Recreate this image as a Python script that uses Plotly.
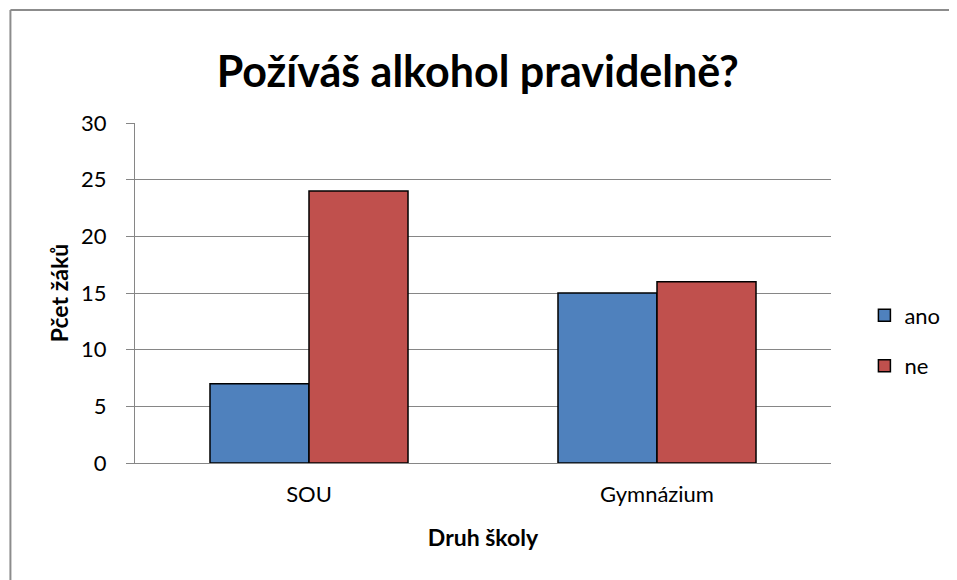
import plotly.graph_objects as go

skoly = ["SOU", "Gymnázium"]
ano = [7, 15]
ne = [24, 16]
y_ticks = [0, 5, 10, 15, 20, 25, 30]

FONT = "Lato, sans-serif"
GRID = "#868686"

fig = go.Figure()
fig.add_trace(go.Bar(
    x=skoly, y=ano, name="ano", legendgroup="ano",
    marker=dict(color="#4F81BD", line=dict(color="black", width=1.5))
))
fig.add_trace(go.Bar(
    x=skoly, y=ne, name="ne", legendgroup="ne",
    marker=dict(color="#C0504D", line=dict(color="black", width=1.5))
))

# page body has an 8px margin, so the figure is a bit smaller than the window
fig.update_layout(
    width=949, height=572,
    margin=dict(l=127, r=119, t=115, b=117),
    plot_bgcolor="white", paper_bgcolor="white",
    font=dict(family=FONT, size=22, color="black"),
    title=dict(text="<b>Požíváš alkohol pravidelně?</b>", x=0.495, xanchor="center",
               y=0.888, yanchor="middle", font=dict(size=43, family=FONT)),
    barmode="group", bargap=0.431, bargroupgap=0,
    legend=dict(x=1.048, y=0.359, xanchor="left", yanchor="middle",
                traceorder="grouped", tracegroupgap=19, font=dict(size=22)),
    showlegend=True,
)
fig.update_yaxes(
    range=[0, 30], tickvals=y_ticks, showgrid=True, gridcolor=GRID, gridwidth=1,
    showline=True, linecolor=GRID, linewidth=1, automargin=False,
    ticks="outside", ticklen=8, tickcolor=GRID, ticklabelstandoff=15,
    zeroline=False,
    title=dict(text="<b>Pčet žáků</b>", font=dict(size=23), standoff=6),
)
fig.update_xaxes(
    showline=True, linecolor=GRID, linewidth=1, ticks="", automargin=False,
    ticklabelstandoff=12,
    title=dict(text="<b>Druh školy</b>", font=dict(size=23), standoff=23),
)
# chart frame: only the top and left edges are visible in the picture
border = dict(color="#8c8c8c", width=2)
fig.add_shape(type="line", xref="paper", yref="paper",
              x0=-0.179, x1=1.3, y0=1.332, y1=1.332, line=border)
fig.add_shape(type="line", xref="paper", yref="paper",
              x0=-0.179, x1=-0.179, y0=-0.5, y1=1.332, line=border)

fig.write_html("out.html")
